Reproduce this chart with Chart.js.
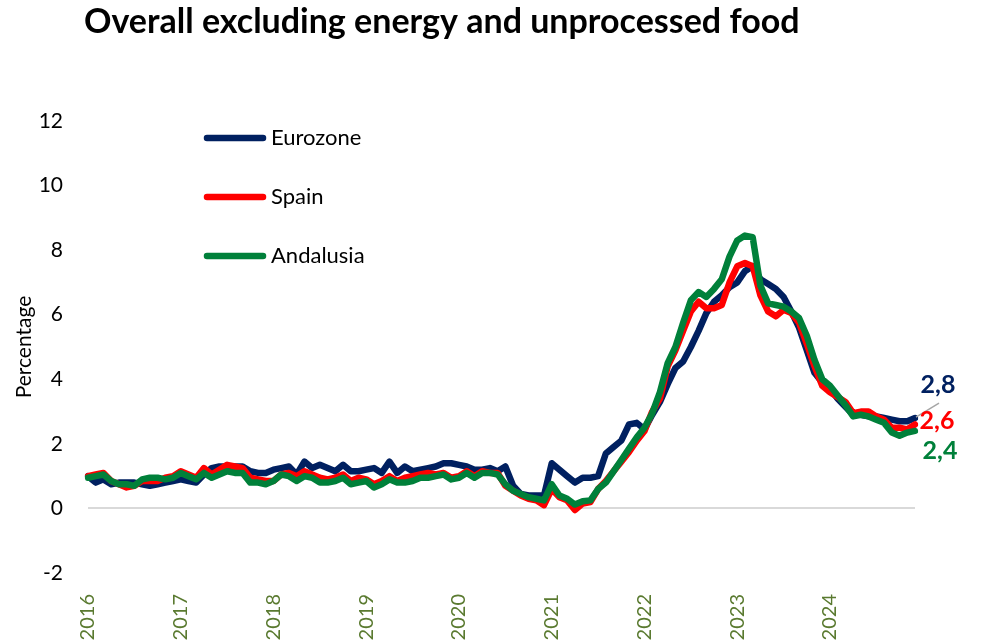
<!DOCTYPE html>
<html><head><meta charset="utf-8">
<script src="https://cdn.jsdelivr.net/npm/chart.js@4.4.1/dist/chart.umd.min.js"></script>
<style>html,body{margin:0;padding:0;background:#fff;}#wrap{position:relative;width:981px;height:641px;}</style>
</head><body><div id="wrap"><canvas id="c" width="981" height="641"></canvas></div>
<script>
const chartTitle = 'Overall excluding energy and unprocessed food';
const yAxisTitle = 'Percentage';
const years = ['2016','2017','2018','2019','2020','2021','2022','2023','2024'];
const monthNums = ['01','02','03','04','05','06','07','08','09','10','11','12'];
const categories = years.flatMap(y => monthNums.map(m => y + '-' + m));
const seriesNames = ['Eurozone', 'Spain', 'Andalusia'];

const eurozone = [
  1.0, 0.8, 0.9, 0.75, 0.8, 0.8, 0.8, 0.75, 0.7, 0.75, 0.8, 0.85,
  0.9, 0.85, 0.8, 1.05, 1.25, 1.3, 1.3, 1.3, 1.3, 1.15, 1.1, 1.1,
  1.2, 1.25, 1.3, 1.05, 1.45, 1.25, 1.35, 1.25, 1.15, 1.35, 1.15, 1.15,
  1.2, 1.25, 1.1, 1.45, 1.1, 1.3, 1.15, 1.2, 1.25, 1.3, 1.4, 1.4,
  1.35, 1.3, 1.2, 1.2, 1.25, 1.15, 1.3, 0.7, 0.45, 0.4, 0.4, 0.4,
  1.4, 1.2, 1.0, 0.8, 0.95, 0.95, 1.0, 1.7, 1.9, 2.1, 2.6, 2.65,
  2.45, 2.9, 3.3, 3.85, 4.35, 4.55, 5.0, 5.5, 6.05, 6.4, 6.6, 6.85,
  7.0, 7.35, 7.5, 7.1, 6.95, 6.8, 6.55, 6.1, 5.6, 4.9, 4.2, 3.9,
  3.7, 3.4, 3.15, 2.9, 2.9, 2.85, 2.85, 2.8, 2.75, 2.7, 2.7, 2.8
];
const spain = [
  1.0, 1.05, 1.1, 0.85, 0.75, 0.65, 0.7, 0.85, 0.85, 0.85, 0.95, 1.0,
  1.15, 1.05, 0.95, 1.25, 1.05, 1.2, 1.35, 1.3, 1.25, 0.95, 0.9, 0.85,
  0.85, 1.05, 1.1, 1.0, 1.15, 1.05, 0.95, 0.9, 0.95, 1.05, 0.85, 0.95,
  0.9, 0.75, 0.85, 1.0, 0.85, 0.95, 1.0, 1.05, 1.1, 1.05, 1.1, 0.95,
  1.0, 1.15, 1.0, 1.15, 1.1, 1.1, 0.7, 0.55, 0.4, 0.3, 0.25, 0.1,
  0.6, 0.35, 0.25, -0.05, 0.15, 0.2, 0.6, 0.85, 1.15, 1.45, 1.75, 2.1,
  2.4, 3.0, 3.4, 4.4, 4.9, 5.5, 6.1, 6.4, 6.2, 6.2, 6.3, 7.0,
  7.5, 7.6, 7.5, 6.6, 6.1, 5.95, 6.15, 6.05, 5.75, 5.1, 4.4, 3.8,
  3.6, 3.45, 3.3, 2.95, 3.0, 3.0, 2.85, 2.75, 2.5, 2.5, 2.45, 2.6
];
const andalusia = [
  0.95, 1.0, 1.05, 0.85, 0.75, 0.75, 0.7, 0.9, 0.95, 0.95, 0.9, 0.95,
  1.1, 1.0, 0.9, 1.1, 0.95, 1.05, 1.15, 1.1, 1.1, 0.8, 0.8, 0.75,
  0.85, 1.05, 1.0, 0.85, 1.0, 0.95, 0.8, 0.8, 0.85, 0.95, 0.75, 0.8,
  0.85, 0.65, 0.75, 0.9, 0.8, 0.8, 0.85, 0.95, 0.95, 1.0, 1.05, 0.9,
  0.95, 1.1, 0.95, 1.1, 1.1, 1.05, 0.75, 0.55, 0.45, 0.35, 0.3, 0.25,
  0.75, 0.4, 0.3, 0.12, 0.22, 0.25, 0.6, 0.8, 1.15, 1.5, 1.85, 2.2,
  2.5, 2.95, 3.6, 4.5, 5.0, 5.75, 6.45, 6.7, 6.55, 6.8, 7.1, 7.8,
  8.3, 8.45, 8.4, 6.9, 6.35, 6.3, 6.25, 6.1, 5.9, 5.35, 4.6, 4.0,
  3.8, 3.5, 3.2, 2.85, 2.9, 2.85, 2.75, 2.65, 2.35, 2.25, 2.35, 2.4
];

const colors = ['#002060', '#FF0000', '#00803A'];
const FONT = 'Lato, "Open Sans", sans-serif';
Chart.defaults.font.family = FONT;

const overlay = {
  id: 'overlay',
  afterDraw(chart) {
    const ctx = chart.ctx;
    ctx.save();
    // title
    ctx.font = 'bold 34px ' + FONT;
    ctx.fillStyle = '#000';
    ctx.textAlign = 'left';
    ctx.textBaseline = 'middle';
    ctx.fillText(chartTitle, 84, 22);
    // legend
    chart.data.datasets.forEach((ds, i) => {
      const y = 138 + i * 59;
      ctx.strokeStyle = ds.borderColor;
      ctx.lineWidth = 6.5;
      ctx.lineCap = 'round';
      ctx.beginPath(); ctx.moveTo(207, y); ctx.lineTo(263, y); ctx.stroke();
      ctx.font = '22px ' + FONT;
      ctx.fillStyle = '#000';
      ctx.textAlign = 'left';
      ctx.fillText(ds.label, 271, y);
    });
    // end-value labels
    const offs = [[23, -33], [22, -4], [25, 20]];
    chart.data.datasets.forEach((ds, i) => {
      const meta = chart.getDatasetMeta(i);
      const last = meta.data[meta.data.length - 1];
      const v = ds.data[ds.data.length - 1];
      if (i === 0) {
        ctx.strokeStyle = '#a6a6a6';
        ctx.lineWidth = 1.5;
        ctx.lineCap = 'butt';
        ctx.beginPath(); ctx.moveTo(last.x + 1, last.y - 1); ctx.lineTo(last.x + 24, last.y - 15); ctx.stroke();
      }
      ctx.font = 'bold 25px ' + FONT;
      ctx.fillStyle = ds.borderColor;
      ctx.textAlign = 'center';
      ctx.textBaseline = 'middle';
      ctx.fillText(v.toFixed(1).replace('.', ','), last.x + offs[i][0], last.y + offs[i][1]);
    });
    ctx.restore();
  }
};

const seriesData = [eurozone, spain, andalusia];
new Chart(document.getElementById('c'), {
  type: 'line',
  data: {
    labels: categories,
    datasets: seriesNames.map((n, i) => ({
      label: n,
      data: seriesData[i],
      borderColor: colors[i],
      backgroundColor: colors[i],
      borderWidth: 6.5,
      pointRadius: 0,
      tension: 0,
      borderCapStyle: 'round',
      borderJoinStyle: 'round',
      order: 3 - i
    }))
  },
  options: {
    responsive: false,
    animation: false,
    devicePixelRatio: 1,
    layout: { padding: { top: 121, left: 10, right: 66, bottom: 0 } },
    plugins: { legend: { display: false }, tooltip: { enabled: false }, title: { display: false } },
    scales: {
      x: {
        type: 'category',
        offset: false,
        grid: { display: false, drawTicks: false },
        border: { display: false },
        afterFit(scale) { scale.height = 68; },
        ticks: {
          autoSkip: false,
          maxRotation: 90,
          minRotation: 90,
          padding: 21,
          color: '#5A7A30',
          font: { size: 20 },
          callback(val, idx) { return idx % 12 === 0 ? categories[idx].slice(0, 4) : ''; }
        }
      },
      y: {
        min: -2, max: 12,
        afterFit(scale) { scale.width = 78; },
        border: { display: false },
        grid: {
          drawTicks: false,
          lineWidth: 2,
          color: (c) => (c.tick && c.tick.value === 0) ? '#d9d9d9' : 'rgba(0,0,0,0)'
        },
        ticks: { stepSize: 2, padding: 25, color: '#000', font: { size: 21 } },
        title: { display: true, text: yAxisTitle, color: '#000', font: { size: 21 }, padding: { top: 2, bottom: 2 } }
      }
    }
  },
  plugins: [overlay]
});
</script>
</body></html>
